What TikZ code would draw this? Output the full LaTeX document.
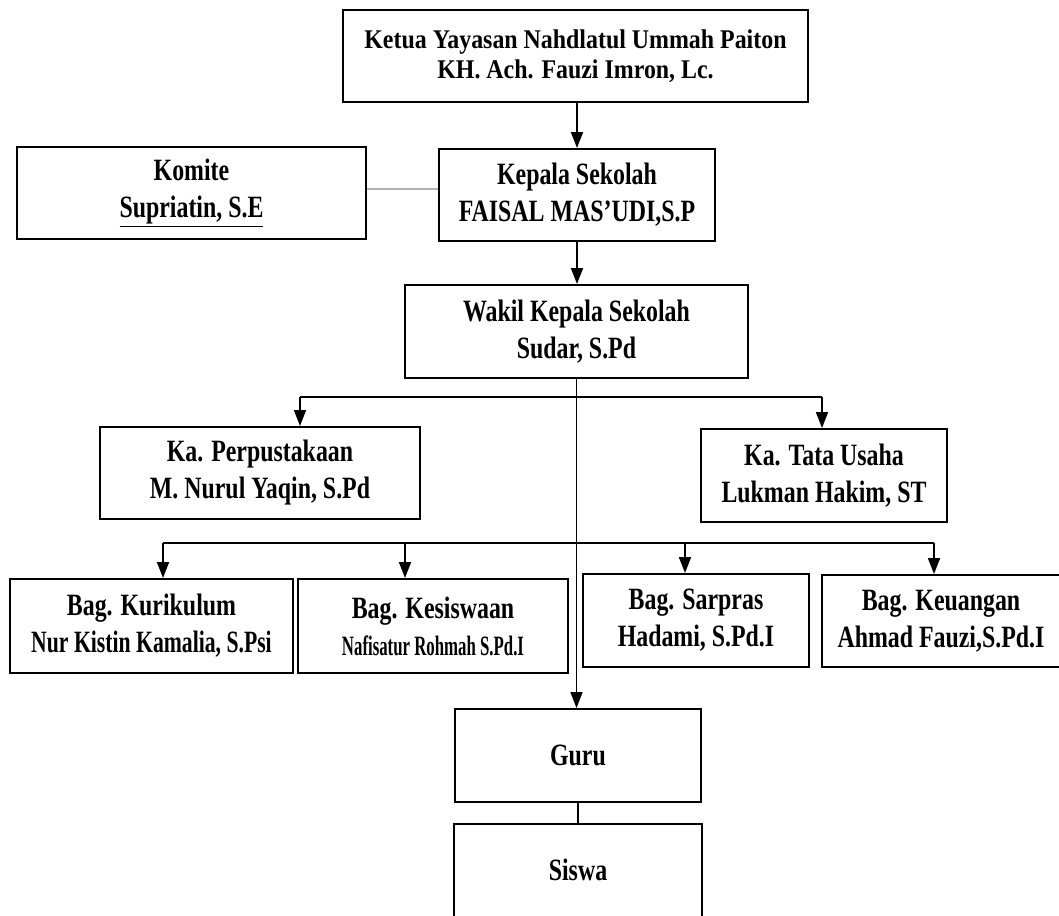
\documentclass[tikz,border=0pt]{standalone}
\usepackage{fontspec}
\usetikzlibrary{arrows.meta}
\setmainfont{Liberation Serif}
% condensed bold serif faces for the box labels
\newfontfamily\topfont{Liberation Serif}[FakeStretch=0.885]
\newfontfamily\boxfont{Liberation Serif}[FakeStretch=0.77]
\newfontfamily\kurfont{Liberation Serif}[FakeStretch=0.70]
\newfontfamily\kesfont{Liberation Serif}[FakeStretch=0.60]

\begin{document}
\begin{tikzpicture}[x=1pt,y=-1pt,
  box/.style={draw, line width=2pt, inner sep=0pt, align=center,
    font=\boxfont\bfseries\fontsize{31}{37}\selectfont},
  topbox/.style={box, font=\topfont\bfseries\fontsize{27}{29.5}\selectfont},
  link/.style={line width=1.8pt},
  arr/.style={link, -{Triangle[length=16pt,width=12pt]}},
  softlink/.style={line width=2.5pt, gray!60}
]
\useasboundingbox (0,0) rectangle (1059,915);

% boxes
\node[topbox, minimum width=465pt, minimum height=92pt] (ketua) at (575.5,56)
  {Ketua Yayasan Nahdlatul Ummah Paiton\\KH. Ach. Fauzi Imron, Lc.};
\node[box, minimum width=349pt, minimum height=92pt] (komite) at (191.5,193)
  {Komite\\\underline{Supriatin, S.E}};
\node[box, minimum width=276pt, minimum height=92pt] (kepala) at (577,195)
  {Kepala Sekolah\\FAISAL MAS’UDI,S.P};
\node[box, minimum width=343pt, minimum height=93pt] (wakil) at (576.5,331.5)
  {Wakil Kepala Sekolah\\Sudar, S.Pd};
\node[box, minimum width=320pt, minimum height=92pt] (perpus) at (260,473)
  {Ka. Perpustakaan\\M. Nurul Yaqin, S.Pd};
\node[box, minimum width=246pt, minimum height=93pt] (tata) at (824,475.5)
  {Ka. Tata Usaha\\Lukman Hakim, ST};
\node[box, minimum width=283pt, minimum height=94pt] (kur) at (151.5,626)
  {Bag. Kurikulum\\{\kurfont Nur Kistin Kamalia, S.Psi}};
\node[box, minimum width=270pt, minimum height=94pt] (kes) at (433,626)
  {Bag. Kesiswaan\\{\kesfont\fontsize{28}{37}\selectfont Nafisatur Rohmah S.Pd.I}};
\node[box, minimum width=226pt, minimum height=93pt] (sar) at (696,620.5)
  {Bag. Sarpras\\Hadami, S.Pd.I};
\node[box, minimum width=238pt, minimum height=92pt] (keu) at (941,621)
  {Bag. Keuangan\\Ahmad Fauzi,S.Pd.I};
\node[box, minimum width=246pt, minimum height=93pt] (guru) at (578,755.5) {Guru};
\node[box, draw=none, minimum width=246pt, minimum height=90pt] (siswa) at (578,870) {Siswa};
\draw[line width=2pt] (siswa.south west) -- (siswa.north west)
  -- (siswa.north east) -- (siswa.south east);

% connectors
\draw[arr] (kepala.north |- ketua.south) -- (kepala.north);
\coordinate (kline) at (0,189);
\draw[softlink] (komite.east |- kline) -- (kepala.west |- kline);
\draw[arr] (kepala.south) -- (kepala.south |- wakil.north);
\draw[arr] (wakil.south) -- (wakil.south |- guru.north);
\draw[link] (guru.south) -- (guru.south |- siswa.north);

% first branch under the deputy head
\coordinate (pL) at (300,397);
\coordinate (pR) at (822,397);
\draw[link] (pL) -- (pR);
\draw[arr] (pL) -- (pL |- perpus.north);
\draw[arr] (pR) -- (pR |- tata.north);

% second branch to the four sections
\coordinate (b1) at (163,543);
\coordinate (b2) at (405,543);
\coordinate (b3) at (685,543);
\coordinate (b4) at (934,543);
\draw[link] (b1) -- (b4);
\draw[arr] (b1) -- (b1 |- kur.north);
\draw[arr] (b2) -- (b2 |- kes.north);
\draw[arr] (b3) -- (b3 |- sar.north);
\draw[arr] (b4) -- (b4 |- keu.north);
\end{tikzpicture}
\end{document}
